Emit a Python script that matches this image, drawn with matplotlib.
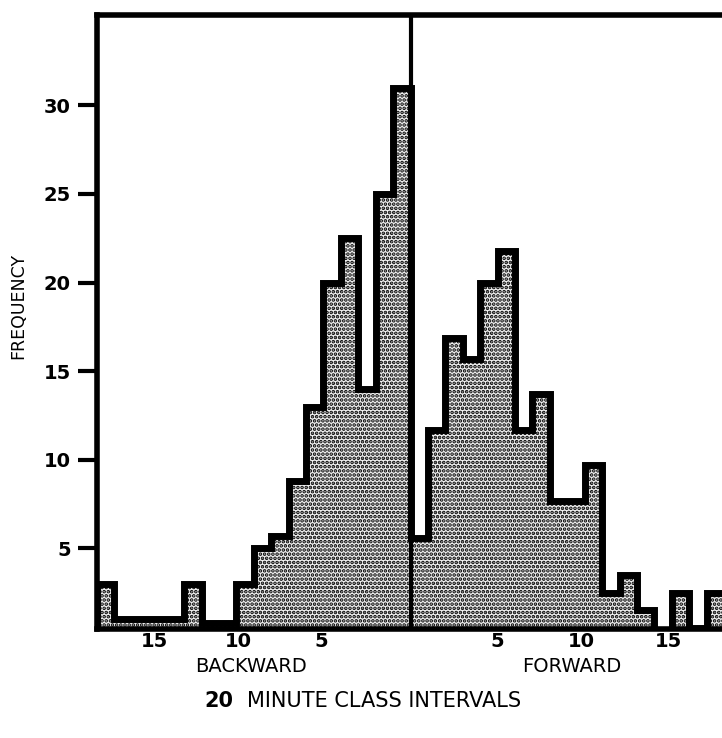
import numpy as np
import matplotlib
matplotlib.use("Agg")
import matplotlib.pyplot as plt

# frequencies per 20 minute class
# backward: from the far left (18th class back) to the class next to the centre line
backward = [3, 1, 1, 1, 1, 3, 0.8, 0.8, 3, 5, 5.7, 8.8, 13, 20, 22.5, 14, 25, 31]
# forward: from the class next to the centre line outwards
forward = [5.6, 11.7, 16.9, 15.7, 20, 21.8, 11.7, 13.7, 7.7, 7.7, 9.7, 2.5, 3.5, 1.5, 0, 2.5, 0.5, 2.5]

ytick_vals = [5, 10, 15, 20, 25, 30]
xtick_pos = [-14.7, -9.9, -5.1, 5.0, 9.8, 14.8]
xtick_lab = ['15', '10', '5', '5', '10', '15']

plt.rcParams['font.family'] = ['DejaVu Sans']
plt.rcParams['hatch.linewidth'] = 1.8

values = np.array(backward + forward, dtype=float)
edges = np.arange(-len(backward), len(forward) + 1)

fig = plt.figure(figsize=(7.22, 7.38), dpi=100)
ax = fig.add_axes([97 / 722, 1 - 629 / 738, (724 - 97) / 722, (629 - 15) / 738])

# speckled fill
ax.stairs(values, edges, fill=True, facecolor='#eeeeee', edgecolor='black',
          hatch='....', linewidth=0, zorder=2)
# heavy outline of the histogram
ax.stairs(values, edges, color='black', linewidth=5, baseline=0, zorder=3)

# centre line
ax.axvline(0, color='black', linewidth=3, zorder=4)

# floor of the drawing sits a little above zero
ax.set_xlim(edges[0], edges[-1])
ax.set_ylim(0.45, 35.1)

for side in ['left', 'top', 'bottom']:
    ax.spines[side].set_linewidth(4)
ax.spines['right'].set_visible(False)

ax.set_yticks(ytick_vals)
ax.set_yticklabels([str(v) for v in ytick_vals], fontsize=14, fontweight='bold')
ax.tick_params(axis='y', direction='out', length=14, width=3, pad=5)

ax.set_xticks(xtick_pos)
ax.set_xticklabels(xtick_lab, fontsize=14, fontweight='bold')
ax.tick_params(axis='x', length=0, pad=2)

fig.text(18 / 722, 1 - 306 / 738, 'FREQUENCY', rotation=90, ha='center', va='center',
         fontsize=12.5)

fig.text(251 / 722, 1 - 667 / 738, 'BACKWARD', ha='center', va='center', fontsize=14)
fig.text(572 / 722, 1 - 667 / 738, 'FORWARD', ha='center', va='center', fontsize=14)
fig.text(219 / 722, 1 - 701 / 738, '20', ha='center', va='center',
         fontsize=15, fontweight='bold')
fig.text(247 / 722, 1 - 701 / 738, 'MINUTE CLASS INTERVALS', ha='left', va='center',
         fontsize=15)

fig.savefig('out.png', dpi=100)
